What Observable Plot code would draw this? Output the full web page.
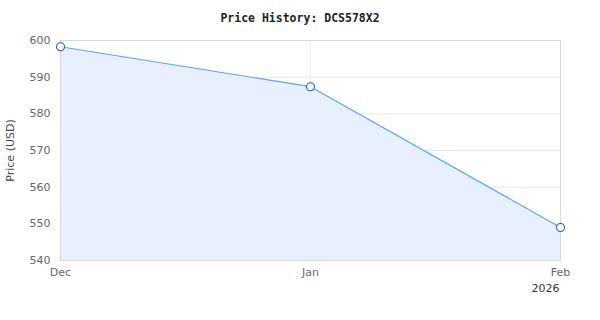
<!DOCTYPE html>
<html><head><meta charset="utf-8">
<script src="https://cdn.jsdelivr.net/npm/d3@7"></script>
<script src="https://cdn.jsdelivr.net/npm/@observablehq/plot@0.6"></script>
<style>
body{margin:0;background:#fff;}
#title{height:32px;font:bold 11.5px "DejaVu Sans Mono",monospace;line-height:36px;text-align:center;color:#222;width:600px;}
</style></head><body>
<div id="title">Price History: DCS578X2</div>
<div id="chart"></div>
<script>
const dates = ["2025-12-01","2026-01-01","2026-02-01"];
const prices = [598.3, 587.4, 549.0];
const yDomain = [540, 600];
const yTicks = [540, 550, 560, 570, 580, 590, 600];
const xTickLabels = ["Dec", "Jan", "Feb"];
const yearLabel = "2026";

const data = dates.map((d, i) => ({date: new Date(d + "T00:00:00Z"), price: prices[i]}));
const xTicks = data.map(d => d.date);

const chart = Plot.plot({
  width: 600,
  height: 288,
  marginTop: 8,
  marginBottom: 60,
  marginLeft: 60,
  marginRight: 40,
  style: {fontFamily: "DejaVu Sans", fontSize: "11px", color: "#666"},
  x: {type: "utc", domain: [xTicks[0], xTicks[2]], ticks: xTicks,
      tickFormat: (d, i) => xTickLabels[i], tickSize: 0, tickPadding: 8, label: null},
  y: {domain: yDomain, ticks: yTicks, tickSize: 0, tickPadding: 10,
      label: "Price (USD)", labelAnchor: "center", labelArrow: "none"},
  marks: [
    Plot.gridY(yTicks, {stroke: "#e6e6e6", strokeOpacity: 1}),
    Plot.gridX([xTicks[1]], {stroke: "#eeeeee", strokeOpacity: 1}),
    Plot.areaY(data, {x: "date", y1: yDomain[0], y2: "price", fill: "#e8f0fd", fillOpacity: 1}),
    Plot.frame({stroke: "#d8d8d8"}),
    Plot.lineY(data, {x: "date", y: "price", stroke: "#5fa3f2", strokeWidth: 1.2}),
    Plot.dot(data, {x: "date", y: "price", r: 4, fill: "white", stroke: "#1a56db", strokeWidth: 1.1}),
    Plot.axisY({ticks: yTicks, tickSize: 0, tickPadding: 10, label: null, fill: "#666"}),
    Plot.axisY({ticks: [], label: "Price (USD)", labelAnchor: "center", labelArrow: "none", labelOffset: 54, fill: "#444"}),
    Plot.text([xTicks[2]], {x: d => d, frameAnchor: "bottom", dy: 31, dx: -15, text: () => yearLabel, fill: "#333", fontSize: 11})
  ]
});
document.getElementById("chart").appendChild(chart);
</script>
</body></html>
